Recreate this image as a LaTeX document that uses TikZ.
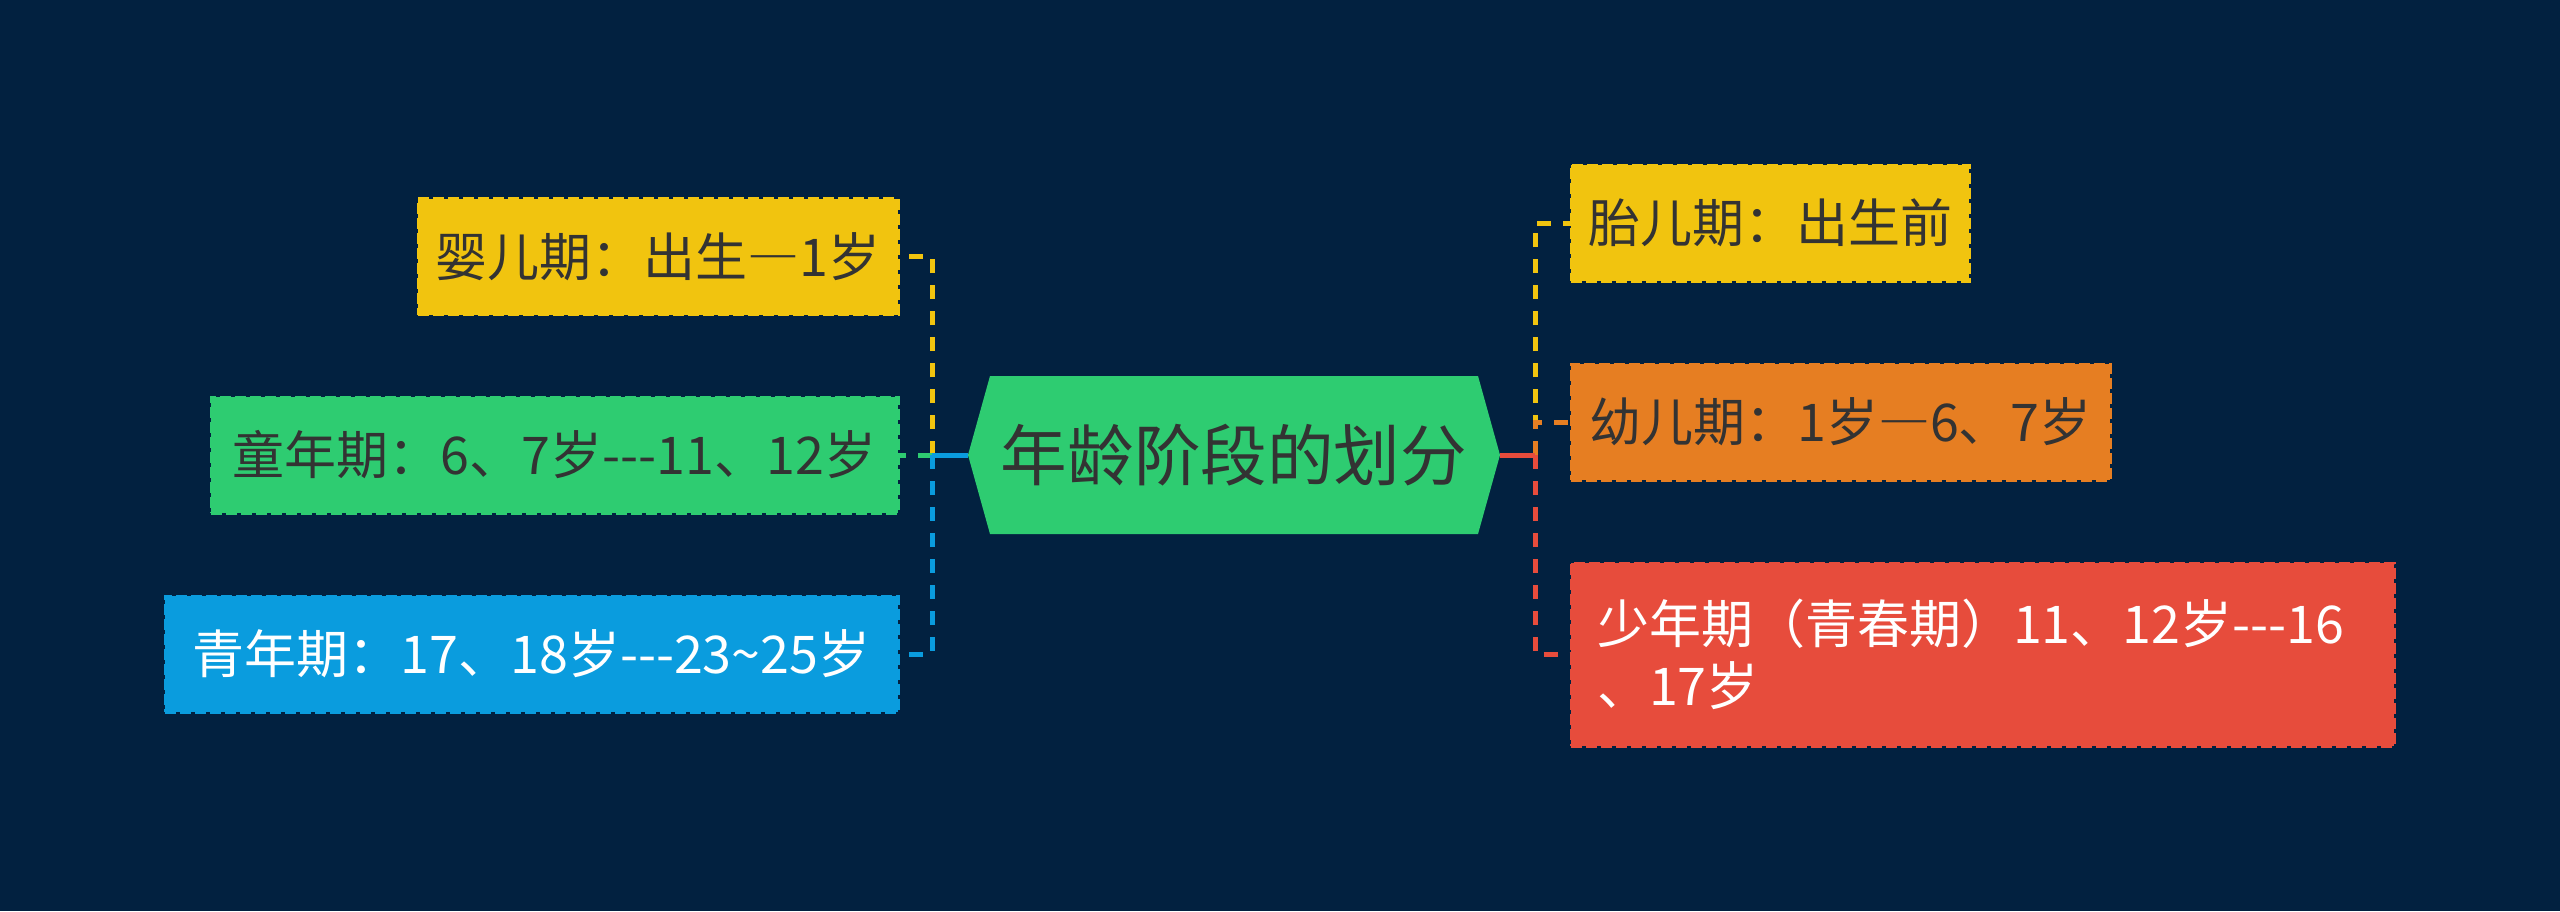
\documentclass[tikz,border=0pt]{standalone}
\usepackage{fontspec}
\newfontfamily\cjk{Noto Sans CJK SC}
\usetikzlibrary{calc}
\definecolor{bg}{HTML}{022140}
\definecolor{yel}{HTML}{F1C40F}
\definecolor{grn}{HTML}{2ECC71}
\definecolor{blu}{HTML}{0A9CDE}
\definecolor{org}{HTML}{E67E22}
\definecolor{red}{HTML}{E74C3C}
\definecolor{txt}{HTML}{333333}
\pgfdeclarelayer{background}
\pgfsetlayers{background,main}
\begin{document}
\begin{tikzpicture}[x=0.5pt,y=-0.5pt,
  box/.style={rectangle, inner sep=0pt, outer sep=0pt, fill=#1, draw=#1,
    line width=1.5pt, dash pattern=on 5.5pt off 2pt,
    font=\cjk\fontsize{26}{31}\selectfont, minimum height=58pt},
  conn/.style={draw=#1, line width=2.5pt, dash pattern=on 7pt off 6pt},
  trunk/.style={draw=#1, line width=2.5pt}]
\begin{pgfonlayer}{background}
\fill[bg] (0,0) rectangle (2560,911);
\end{pgfonlayer}
% root
\node[inner sep=0pt, outer sep=0pt, minimum width=244pt, minimum height=79pt,
  font=\cjk\fontsize{33.3}{33.3}\selectfont, text=txt] (root) at (1234,455) {年龄阶段的划分};
\coordinate (rootL) at ($(root.west)+(-22,0)$);
\coordinate (rootR) at ($(root.east)+(22,0)$);
\begin{pgfonlayer}{background}
\fill[grn] (root.north west) -- (root.north east) -- (rootR) -- (root.south east)
  -- (root.south west) -- (rootL) -- cycle;
\end{pgfonlayer}
% left children
\node[box=yel, text=txt, minimum width=240pt] (infant) at (658,256.5) {婴儿期：出生―1岁};
\node[box=grn, text=txt, minimum width=343.5pt] (child) at (554.5,455) {童年期：6、7岁---11、12岁};
\node[box=blu, text=white, minimum width=366.5pt] (youth) at (531.5,654) {青年期：17、18岁---23\char"007E 25岁};
% right children
\node[box=yel, text=txt, minimum width=199pt] (fetal) at (1770,223) {胎儿期：出生前};
\node[box=org, text=txt, minimum width=269.5pt] (early) at (1840.5,422) {幼儿期：1岁―6、7岁};
\node[box=red, text=white, text width=385.5pt, inner xsep=13pt, align=left,
  minimum height=91.5pt] (teen) at (1982.5,654.5) {少年期（青春期）11、12岁---16\\、17岁};
% junctions
\coordinate (jL) at (932,455);
\coordinate (jR) at (1535,455);
% connectors
\draw[conn=yel] (jL) |- (infant.east);
\draw[conn=grn] (jL) -- (child.east);
\draw[conn=blu] (jL) |- (youth.east);
\draw[trunk=blu] (rootL) -- (jL);
\draw[conn=yel] (jR) |- (fetal.west);
\draw[conn=org] (jR) |- (early.west);
\draw[conn=red] (jR) |- (teen.west);
\draw[trunk=red] (rootR) -- (jR);
\end{tikzpicture}
\end{document}
